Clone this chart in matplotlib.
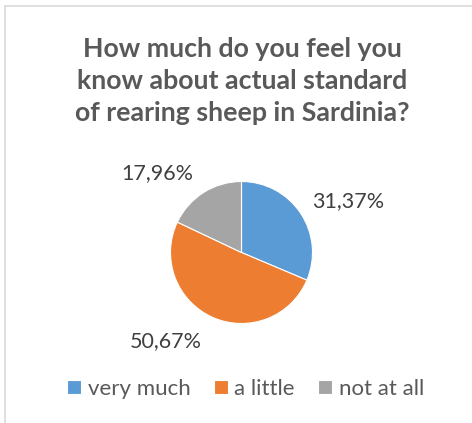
import numpy as np
import matplotlib.pyplot as plt
from matplotlib.patches import Rectangle

plt.rcParams['font.family'] = ['Lato', 'DejaVu Sans']

# Survey answers
categories = ['very much', 'a little', 'not at all']
shares = [31.37, 50.67, 17.96]
colors = ['#5b9bd5', '#ed7d31', '#a5a5a5']
title = 'How much do you feel you\nknow about actual standard\nof rearing sheep in Sardinia?'

W, H = 472, 423
fig = plt.figure(figsize=(W / 100, H / 100), dpi=100)
ax = fig.add_axes([0, 0, 1, 1])

# chart frame (cut off at the right and bottom)
fig.patches.append(Rectangle((5 / W, -0.1), 1.2, (H - 6) / H + 0.1,
                             transform=fig.transFigure, fill=False,
                             edgecolor='#d9d9d9', linewidth=1.2))

cx, cy, r = 241.5, H - 252.5, 71
wedges, texts = ax.pie(
    shares, colors=colors, startangle=90, counterclock=False,
    center=(cx, cy), radius=r, frame=False,
    wedgeprops=dict(edgecolor='white', linewidth=0.8))

ax.set_xlim(0, W)
ax.set_ylim(0, H)
ax.set_aspect('auto')
ax.axis('off')

# data labels placed outside the slices
label_offsets = [(106.5, 51.5), (-75.8, -89), (-84.5, 79.5)]
for val, (dx, dy) in zip(shares, label_offsets):
    ax.text(cx + dx, cy + dy, f'{val:.2f}%'.replace('.', ','),
            ha='center', va='center', fontsize=15.5, color='#404040')

fig.text(0.513, 1 - 81 / H, title, ha='center', va='center',
         fontsize=19.3, fontweight='bold', color='#595959', linespacing=1.4)

fig.legend(wedges, categories, loc='center', bbox_to_anchor=(245.5 / W, 1 - 389 / H),
           ncol=3, frameon=False, fontsize=16, labelcolor='#595959',
           handlelength=0.63, handleheight=0.63, handletextpad=0.3, columnspacing=1.05)

fig.savefig('out.png', dpi=100)
